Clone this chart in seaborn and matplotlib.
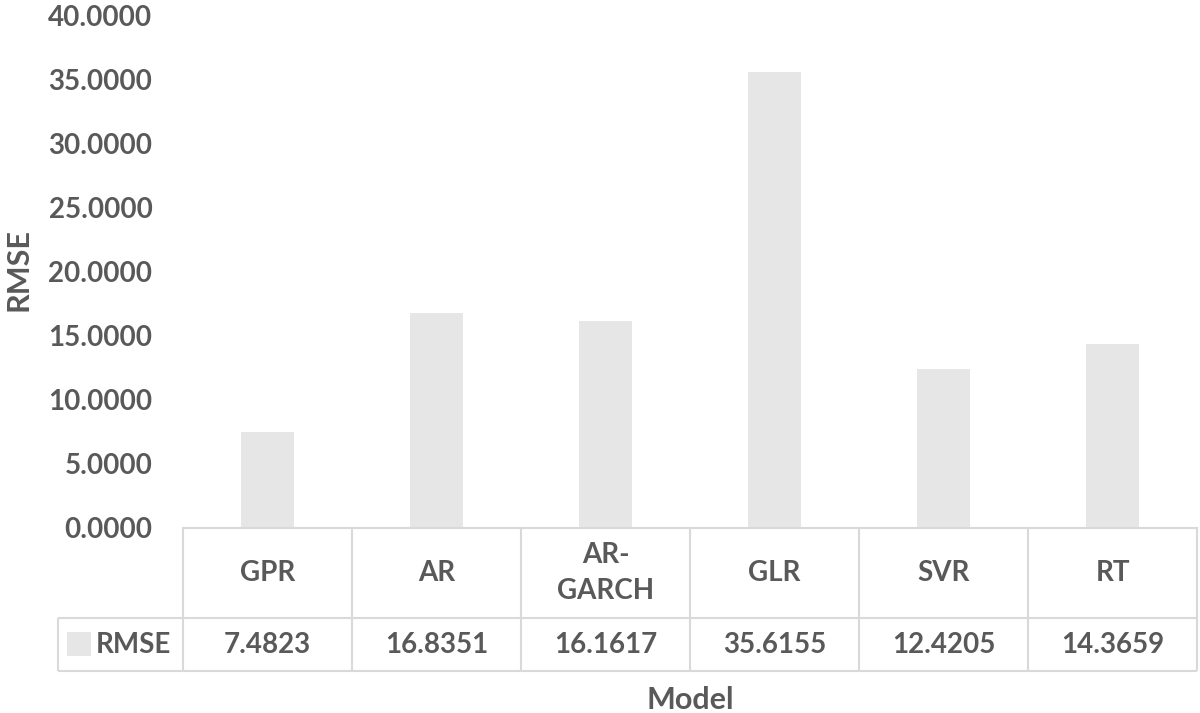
import matplotlib
matplotlib.use("Agg")
import matplotlib.pyplot as plt
import matplotlib.transforms as mtransforms
import seaborn as sns
import pandas as pd

models = ["GPR", "AR", "AR-GARCH", "GLR", "SVR", "RT"]
model_labels = ["GPR", "AR", "AR-\nGARCH", "GLR", "SVR", "RT"]
rmse = [7.4823, 16.8351, 16.1617, 35.6155, 12.4205, 14.3659]
series_name = "RMSE"
yticks = [0, 5, 10, 15, 20, 25, 30, 35, 40]

sns.set_theme(style="white")
plt.rcParams["font.family"] = ["Lato", "DejaVu Sans"]
plt.rcParams["font.weight"] = "bold"

TXT = "#595959"
LINE = "#d9d9d9"
BAR = "#e7e6e6"

df = pd.DataFrame({"Model": models, "RMSE": rmse})

fig = plt.figure(figsize=(12, 7.13), dpi=100)
L, R = 183 / 1200, 1197 / 1200
B, T = (713 - 528) / 713, (713 - 16) / 713
ax = fig.add_axes([L, B, R - L, T - B])

sns.barplot(data=df, x="Model", y="RMSE", color=BAR, width=0.31, ax=ax,
            saturation=1, edgecolor="none")

ax.set_xlim(-0.5, 5.5)
ax.set_ylim(0, 40)
ax.set_yticks(yticks)
ax.set_yticklabels([f"{v:.4f}" for v in yticks], fontsize=20, color=TXT,
                   fontweight="bold")
ax.tick_params(axis="y", length=0, pad=22)
ax.set_xticks([])
ax.set_xlabel("")
ax.set_ylabel("")
for s in ["top", "right", "left"]:
    ax.spines[s].set_visible(False)
ax.spines["bottom"].set_color(LINE)
ax.spines["bottom"].set_linewidth(1.5)

trans = mtransforms.blended_transform_factory(ax.transData, ax.transAxes)
H = 512.0
def ya(py):
    return (528 - py) / H

y_top, y_mid, y_bot = ya(529), ya(618), ya(671)
x_leg = -0.5 - (183 - 58) / 169.0
lw = 1.5
kw = dict(color=LINE, lw=lw, transform=trans, clip_on=False, solid_capstyle="butt")
# horizontal lines
ax.plot([x_leg, 5.5], [y_mid, y_mid], **kw)
ax.plot([x_leg, 5.5], [y_bot, y_bot], **kw)
# vertical lines
for i in range(7):
    xv = -0.5 + i
    ax.plot([xv, xv], [y_top + 0.002, y_bot], **kw)
ax.plot([x_leg, x_leg], [y_mid, y_bot], **kw)

# header labels and values
for i, (lab, v) in enumerate(zip(model_labels, rmse)):
    ax.text(i, ya(573), lab, transform=trans, ha="center", va="center",
            fontsize=20, color=TXT, fontweight="bold", linespacing=1.45)
    ax.text(i, ya(645), f"{v:.4f}", transform=trans, ha="center", va="center",
            fontsize=20, color=TXT, fontweight="bold")

# legend key in table
x_sq = -0.5 - (183 - 79) / 169.0
ax.scatter([x_sq], [ya(644)], marker="s", s=300, color=BAR, transform=trans,
           clip_on=False, edgecolors="none")
ax.text(-0.5 - (183 - 96) / 169.0, ya(645), series_name, transform=trans,
        ha="left", va="center", fontsize=20, color=TXT, fontweight="bold")

fig.text(690 / 1200, 1 - 700 / 713, "Model", ha="center", va="center",
         fontsize=22, color=TXT, fontweight="bold")
fig.text(18 / 1200, 1 - 270 / 713, "RMSE", ha="center", va="center",
         rotation=90, fontsize=22, color=TXT, fontweight="bold")

fig.savefig("out.png", dpi=100, facecolor="white")
